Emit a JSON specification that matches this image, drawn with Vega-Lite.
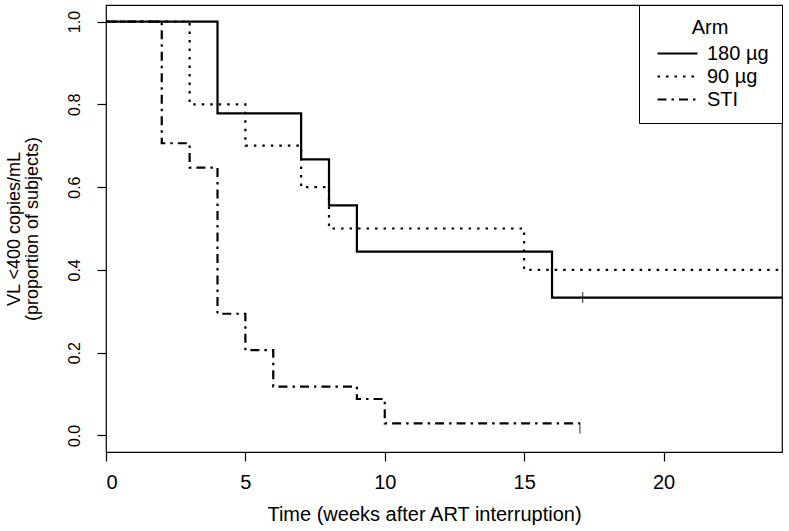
{
  "$schema": "https://vega.github.io/schema/vega-lite/v6.json",
  "width": 676,
  "height": 447,
  "autosize": "none",
  "padding": {"left": 106, "top": 5, "right": 7, "bottom": 79},
  "background": "white",
  "config": {
    "font": "Liberation Sans",
    "view": {"stroke": "black", "strokeWidth": 1.2},
    "axis": {"grid": false, "domain": false, "tickColor": "black", "tickSize": 9, "tickWidth": 1.2, "labelColor": "black", "titleColor": "black", "labelFont": "Liberation Sans", "titleFont": "Liberation Sans", "titleFontWeight": "normal"}
  },
  "datasets": {
    "curves": [
      {"arm": "180 µg", "time": 0, "surv": 1.0},
      {"arm": "180 µg", "time": 4, "surv": 0.778},
      {"arm": "180 µg", "time": 7, "surv": 0.667},
      {"arm": "180 µg", "time": 8, "surv": 0.556},
      {"arm": "180 µg", "time": 9, "surv": 0.444},
      {"arm": "180 µg", "time": 16, "surv": 0.333},
      {"arm": "180 µg", "time": 24.3, "surv": 0.333},
      {"arm": "90 µg", "time": 0, "surv": 1.0},
      {"arm": "90 µg", "time": 3, "surv": 0.8},
      {"arm": "90 µg", "time": 5, "surv": 0.7},
      {"arm": "90 µg", "time": 7, "surv": 0.6},
      {"arm": "90 µg", "time": 8, "surv": 0.5},
      {"arm": "90 µg", "time": 15, "surv": 0.4},
      {"arm": "90 µg", "time": 24.3, "surv": 0.4},
      {"arm": "STI", "time": 0, "surv": 1.0},
      {"arm": "STI", "time": 2, "surv": 0.706},
      {"arm": "STI", "time": 3, "surv": 0.647},
      {"arm": "STI", "time": 4, "surv": 0.294},
      {"arm": "STI", "time": 5, "surv": 0.206},
      {"arm": "STI", "time": 6, "surv": 0.118},
      {"arm": "STI", "time": 9, "surv": 0.088},
      {"arm": "STI", "time": 10, "surv": 0.029},
      {"arm": "STI", "time": 17, "surv": 0.029}
    ],
    "censor": [
      {"arm": "180 µg", "time": 17.1, "surv": 0.333},
      {"arm": "STI", "time": 17, "surv": 0.018}
    ]
  },
  "layer": [
    {
      "data": {"name": "curves"},
      "mark": {"type": "line", "interpolate": "step-after", "color": "black", "strokeWidth": 2.2, "strokeCap": "butt", "clip": true},
      "encoding": {
        "x": {"field": "time", "type": "quantitative", "scale": {"domain": [0, 24.25], "nice": false, "zero": false},
              "axis": {"values": [0, 5, 10, 15, 20], "title": "Time (weeks after ART interruption)", "labelFontSize": 20, "titleFontSize": 20, "labelPadding": 11, "titlePadding": 12, "titleX": 318, "titleAlign": "center", "titleAnchor": null}},
        "y": {"field": "surv", "type": "quantitative", "scale": {"domain": [-0.04, 1.04], "nice": false, "zero": false},
              "axis": {"values": [0, 0.2, 0.4, 0.6, 0.8, 1.0], "format": ".1f", "title": ["VL <400 copies/mL", "(proportion of subjects)"], "labelAngle": -90, "labelAlign": "center", "labelBaseline": "bottom", "labelFontSize": 16, "labelPadding": 15, "titleFontSize": 18, "titlePadding": 25, "titleLineHeight": 18}},
        "strokeDash": {"field": "arm", "type": "nominal",
          "scale": {"domain": ["180 µg", "90 µg", "STI"], "range": [[1, 0], [2.5, 6], [9, 5, 2.5, 5]]},
          "legend": {"title": "Arm", "orient": "top-right", "offset": 0, "strokeColor": "black", "fillColor": "white", "padding": 13, "titleAnchor": "middle", "titleFontSize": 20, "titleFontWeight": "normal", "titleColor": "black", "titlePadding": 4, "labelFontSize": 20, "labelColor": "black", "symbolType": "M-2,0L2,0", "symbolSize": 400, "symbolStrokeWidth": 2.2, "symbolStrokeColor": "black", "symbolFillColor": "transparent", "symbolOffset": 14, "labelOffset": 18, "rowPadding": 1}}
      }
    },
    {
      "data": {"name": "censor"},
      "mark": {"type": "tick", "orient": "vertical", "color": "black", "size": 11, "thickness": 1.2},
      "encoding": {
        "x": {"field": "time", "type": "quantitative"},
        "y": {"field": "surv", "type": "quantitative"}
      }
    }
  ]
}
